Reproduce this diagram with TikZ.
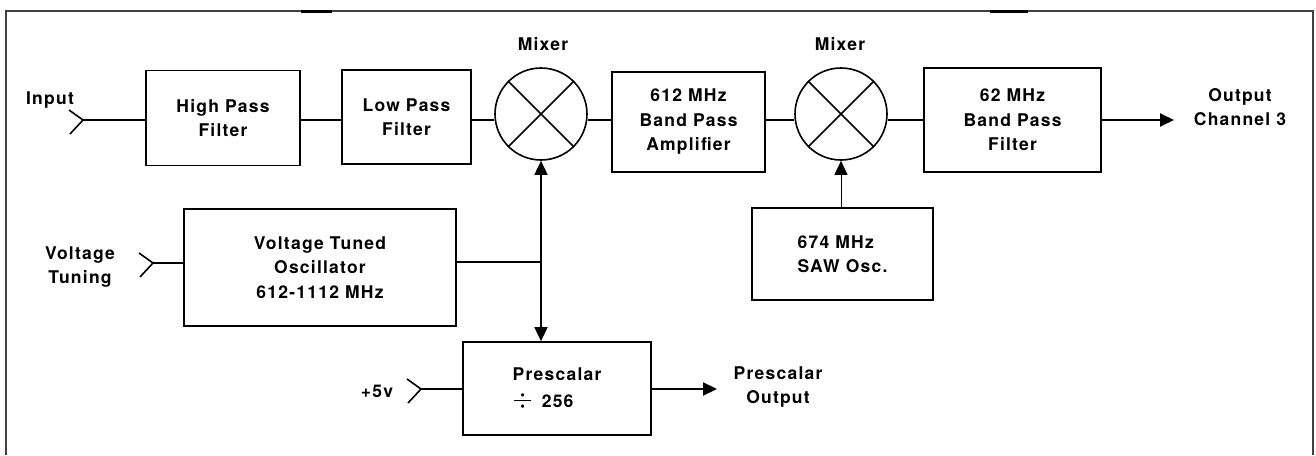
\documentclass[tikz,border=0pt]{standalone}
\usepackage{fontspec}
\setmainfont{TeX Gyre Heros}[LetterSpace=7]
\usetikzlibrary{arrows.meta}

\begin{document}
\begin{tikzpicture}[x=1pt,y=-1pt,line width=1.6pt,>={Triangle[length=14pt,width=13pt]},
  every node/.style={font=\fontsize{17.5}{24.5}\selectfont\bfseries},
  blk/.style 2 args={draw,minimum width=#1,minimum height=#2,inner sep=0pt,align=center},
  mix/.style={draw,circle,minimum size=92pt,inner sep=0pt},
  txt/.style={align=center,inner sep=0pt},
  jack/.pic={\draw (-14,-10) -- (0,0) -- (-13,14);}]
\useasboundingbox (0,0) rectangle (1316,455);
% frame
\draw[line width=1.4pt,black!75] (6,455) -- (6,11) -- (1313,11) -- (1313,455);
\draw[line width=3pt] (301,11) -- (332,11) (990,11) -- (1028,11);
% blocks
\node[blk={154pt}{95pt}] (hpf) at (223,118) {High Pass\\Filter};
\node[blk={129pt}{94pt}] (lpf) at (406.5,117) {Low Pass\\Filter};
\node[mix] (mixA) at (541,114) {};
\node[blk={153pt}{100pt}] (bpa) at (688.5,122) {612 MHz\\Band Pass\\Amplifier};
\node[mix] (mixB) at (841,114) {};
\node[blk={177pt}{104pt}] (bpf) at (1012.5,120) {62 MHz\\Band Pass\\Filter};
\node[blk={272pt}{117pt}] (vto) at (320,267.5) {Voltage Tuned\\Oscillator\\612-1112 MHz};
\node[blk={188pt}{93pt},align=left] (pres) at (557,388.5) {Prescalar\\[3pt]\scalebox{1.5}{$\div$}\, 256};
\node[blk={181pt}{92pt},align=left] (saw) at (842.5,254) {674 MHz\\SAW Osc.};
\foreach \m in {mixA,mixB}
  \draw (\m.north west) -- (\m.south east) (\m.north east) -- (\m.south west);
% labels
\node[txt] (inL) at (50,100) {Input};
\node[txt] (mixAL) at (543,44) {Mixer};
\node[txt] (mixBL) at (840,44) {Mixer};
\node[txt] (outL) at (1240,107) {Output\\Channel 3};
\node[txt] (vtL) at (80,267) {Voltage\\Tuning};
\node[txt] (pwrL) at (377,391) {+5v};
\node[txt] (presL) at (778,387) {Prescalar\\Output};
% connectors
\coordinate (row) at (0,120);
\coordinate (inJ) at (83,120);
\coordinate (vtJ) at (153,263);
\coordinate (pwrJ) at (421,389);
\coordinate (j) at (541,262);
\coordinate (outE) at (1174,120);
\coordinate (presE) at (717,389);
\foreach \c in {inJ,vtJ,pwrJ}
  \pic at (\c) {jack};
\draw (inJ) -- (hpf.west |- row);
\foreach \a/\b in {hpf/lpf,lpf/mixA,mixA/bpa,bpa/mixB,mixB/bpf}
  \draw (\a.east |- row) -- (\b.west |- row);
\draw[->,line width=2pt] (bpf.east |- row) -- (outE);
\draw (vtJ) -- (vtJ -| vto.west);
\draw (j -| vto.east) -- (j);
\draw[->] (j) -- (mixA.south);
\draw[->] (j) -- (j |- pres.north);
\draw (pwrJ) -- (pwrJ -| pres.west);
\draw[->,line width=2pt] (pres.east |- pwrJ) -- (presE);
\draw[->,line width=1pt] (saw.north -| mixB) -- (mixB.south);
\end{tikzpicture}
\end{document}
